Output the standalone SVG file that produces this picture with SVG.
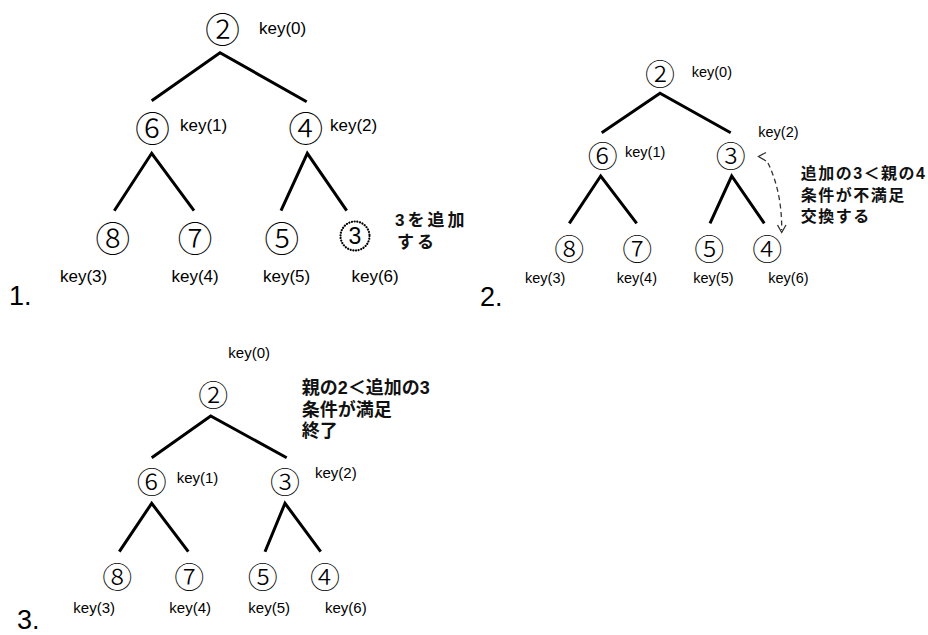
<svg xmlns="http://www.w3.org/2000/svg" width="928" height="635" viewBox="0 0 928 635">
  <style>
    .bg { fill: #ffffff; }
    .edge { fill: none; stroke: #000; stroke-width: 3; stroke-linecap: butt; stroke-linejoin: miter; }
    .cd { font-family: "Noto Sans CJK JP", "DejaVu Sans", sans-serif; font-weight: 300; text-anchor: middle; dominant-baseline: central; fill: #000; }
    .cd1 { font-size: 35px; }
    .cd2 { font-size: 30px; }
    .key { font-family: "Liberation Sans", Arial, sans-serif; fill: #000; }
    .k1 { font-size: 17px; }
    .k2 { font-size: 14.5px; }
    .k3 { font-size: 15px; }
    .note { font-family: "Liberation Sans", "Noto Sans CJK JP", sans-serif; font-weight: 700; fill: #111; }
    .step { font-family: "Liberation Sans", Arial, sans-serif; font-size: 27px; fill: #000; }
    .swap { fill: none; stroke: #333; stroke-width: 1.3; }
  </style>
  <rect class="bg" x="0" y="0" width="928" height="635"/>

  <!-- Step 1: new key 3 appended at the last slot -->
  <g id="step1">
    <g id="s1-connectors">
      <path class="edge" d="M151.7,100.7 L220,52.7 L306.7,101.7"/>
      <path class="edge" d="M114.3,210.7 L151.7,153.3 L194,210.7"/>
      <path class="edge" d="M281,210.7 L307.3,153.3 L346.7,210.7"/>
    </g>
    <g id="s1-k0"><text class="cd cd1" x="222.5" y="27">②</text><text class="key k1" x="259" y="33.5">key(0)</text></g>
    <g id="s1-k1"><text class="cd cd1" x="152.5" y="126">⑥</text><text class="key k1" x="180" y="130.5">key(1)</text></g>
    <g id="s1-k2"><text class="cd cd1" x="305.7" y="126">④</text><text class="key k1" x="330" y="130.5">key(2)</text></g>
    <g id="s1-k3"><text class="cd cd1" x="112.7" y="236">⑧</text><text class="key k1" x="60" y="281.5">key(3)</text></g>
    <g id="s1-k4"><text class="cd cd1" x="195" y="236">⑦</text><text class="key k1" x="171.5" y="281.5">key(4)</text></g>
    <g id="s1-k5"><text class="cd cd1" x="281.7" y="236">⑤</text><text class="key k1" x="263" y="281.5">key(5)</text></g>
    <g id="s1-k6">
      <circle cx="355" cy="236" r="14.5" fill="none" stroke="#000" stroke-width="2.2" stroke-dasharray="0.1 2.6" stroke-linecap="round"/>
      <text x="355" y="244" font-family="Liberation Sans, Arial, sans-serif" font-size="23" text-anchor="middle">3</text>
      <text class="key k1" x="351.5" y="281.5">key(6)</text>
    </g>
    <text id="s1-note" class="note" font-size="17" letter-spacing="3">
      <tspan x="395" y="226">3を追加</tspan>
      <tspan x="397" y="248">する</tspan>
    </text>
    <text class="step" x="9" y="305">1.</text>
  </g>

  <!-- Step 2: 3 is smaller than parent 4, so they swap -->
  <g id="step2">
    <g id="s2-connectors">
      <path class="edge" d="M601.7,132.7 L660,93.3 L730.7,132.7"/>
      <path class="edge" d="M569.3,223.3 L600.7,176 L636.7,223.3"/>
      <path class="edge" d="M710,223.3 L731.7,176 L764.3,223.3"/>
      <path class="swap" d="M768,163 Q782,192 781.7,230" stroke-dasharray="5 3.5"/>
      <polyline class="swap" points="766,152.5 758.5,156.5 766,161"/>
      <polyline class="swap" points="777.5,225 781.7,232.5 786,225"/>
    </g>
    <g id="s2-k0"><text class="cd cd2" x="660" y="71.7">②</text><text class="key k2" x="691.7" y="77.3">key(0)</text></g>
    <g id="s2-k1"><text class="cd cd2" x="602.7" y="154.3">⑥</text><text class="key k2" x="625" y="157.3">key(1)</text></g>
    <g id="s2-k2"><text class="cd cd2" x="730.7" y="154.3">③</text><text class="key k2" x="758.3" y="136.7">key(2)</text></g>
    <g id="s2-k3"><text class="cd cd2" x="569.3" y="246.7">⑧</text><text class="key k2" x="525" y="282.7">key(3)</text></g>
    <g id="s2-k4"><text class="cd cd2" x="637.3" y="246.7">⑦</text><text class="key k2" x="616.7" y="282.7">key(4)</text></g>
    <g id="s2-k5"><text class="cd cd2" x="709.3" y="246.7">⑤</text><text class="key k2" x="693.3" y="282.7">key(5)</text></g>
    <g id="s2-k6"><text class="cd cd2" x="767.3" y="246.7">④</text><text class="key k2" x="768.3" y="282.7">key(6)</text></g>
    <text id="s2-note" class="note" font-size="16" letter-spacing="1.5">
      <tspan x="800.7" y="179">追加の3＜親の4</tspan>
      <tspan x="800.7" y="201">条件が不満足</tspan>
      <tspan x="800.7" y="222">交換する</tspan>
    </text>
    <text class="step" x="480" y="306">2.</text>
  </g>

  <!-- Step 3: parent 2 is smaller than 3, heap order holds -->
  <g id="step3">
    <g id="s3-connectors">
      <path class="edge" d="M151.7,457.7 L210.7,416 L286.7,457.7"/>
      <path class="edge" d="M119.3,551.7 L151.7,503.3 L188.3,551.7"/>
      <path class="edge" d="M265,551.7 L285,503.3 L320.7,551.7"/>
    </g>
    <g id="s3-k0"><text class="cd cd2" x="213.3" y="393.3">②</text><text class="key k3" x="228.3" y="358.3">key(0)</text></g>
    <g id="s3-k1"><text class="cd cd2" x="151.7" y="480">⑥</text><text class="key k3" x="176.7" y="483.3">key(1)</text></g>
    <g id="s3-k2"><text class="cd cd2" x="285" y="480">③</text><text class="key k3" x="315" y="478.3">key(2)</text></g>
    <g id="s3-k3"><text class="cd cd2" x="117.3" y="575">⑧</text><text class="key k3" x="73.3" y="613.3">key(3)</text></g>
    <g id="s3-k4"><text class="cd cd2" x="189.3" y="575">⑦</text><text class="key k3" x="169.3" y="613.3">key(4)</text></g>
    <g id="s3-k5"><text class="cd cd2" x="262.7" y="575">⑤</text><text class="key k3" x="248.3" y="613.3">key(5)</text></g>
    <g id="s3-k6"><text class="cd cd2" x="325" y="575">④</text><text class="key k3" x="325" y="613.3">key(6)</text></g>
    <text id="s3-note" class="note" font-size="18">
      <tspan x="301.7" y="394">親の2＜追加の3</tspan>
      <tspan x="301.7" y="416">条件が満足</tspan>
      <tspan x="301.7" y="437">終了</tspan>
    </text>
    <text class="step" x="17" y="629">3.</text>
  </g>
</svg>
